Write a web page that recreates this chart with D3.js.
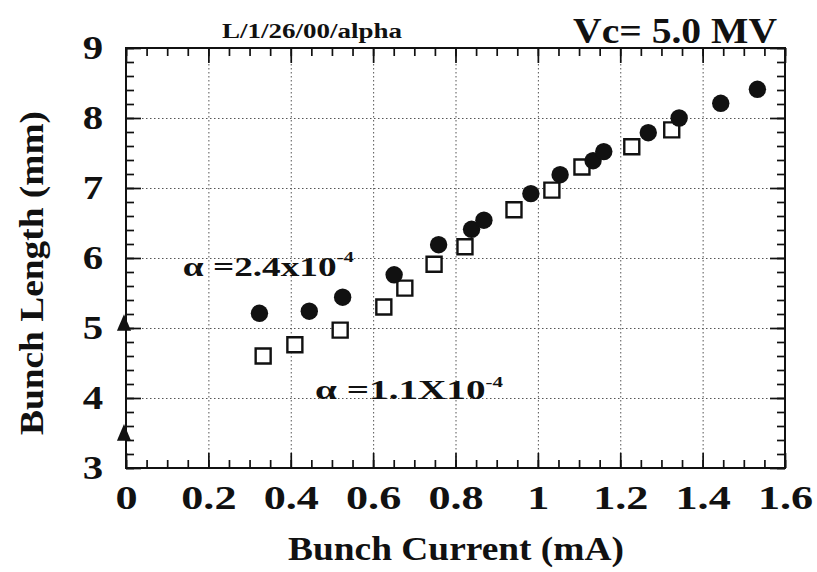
<!DOCTYPE html>
<html>
<head>
<meta charset="utf-8">
<script src="https://cdn.jsdelivr.net/npm/d3@7"></script>
<style>
body { margin: 0; background: #fff; }
text { font-family: "Liberation Serif", "Times New Roman", serif; font-weight: bold; fill: #111; }
.grid line { stroke: #555; stroke-width: 1; stroke-dasharray: 1.5,2.5; }
.grid path { display: none; }
.ticks line { stroke: #111; stroke-width: 1.7; }
.ticks path { display: none; }
</style>
</head>
<body>
<div id="chart-area"></div>
<script>
/*
    Bunch length vs bunch current, Vc = 5.0 MV
 */

// alpha = 2.4e-4 (filled circles)
var currentHigh = [0.324, 0.445, 0.526, 0.651, 0.759, 0.839, 0.869, 0.983, 1.054, 1.134, 1.160, 1.268, 1.343, 1.444, 1.533];
var lengthHigh  = [5.21, 5.24, 5.44, 5.76, 6.19, 6.41, 6.54, 6.92, 7.19, 7.39, 7.52, 7.79, 8.00, 8.21, 8.41];

// alpha = 1.1e-4 (open squares)
var currentLow = [0.333, 0.410, 0.520, 0.626, 0.677, 0.748, 0.823, 0.942, 1.034, 1.107, 1.228, 1.325];
var lengthLow  = [4.60, 4.76, 4.97, 5.30, 5.57, 5.91, 6.16, 6.69, 6.97, 7.30, 7.59, 7.83];

// zero current points (triangles)
var currentZero = [0, 0];
var lengthZero  = [5.04, 3.47];

// ticks
var xTicks = [0, 0.2, 0.4, 0.6, 0.8, 1.0, 1.2, 1.4, 1.6];
var xTickLabels = ["0", "0.2", "0.4", "0.6", "0.8", "1", "1.2", "1.4", "1.6"];
var yTicks = [3, 4, 5, 6, 7, 8, 9];
var yTickLabels = ["3", "4", "5", "6", "7", "8", "9"];

var margin = { left:126, right:32, top:48, bottom:104 },
    width = 817 - margin.left - margin.right,
    height = 572 - margin.top - margin.bottom;

var svg = d3.select("#chart-area")
    .append("svg")
    .attr("width", width + margin.left + margin.right)
    .attr("height", height + margin.top + margin.bottom);
var g = svg.append("g")
    .attr("transform", "translate(" + margin.left + ", " + margin.top + ")");

// Scales
var x = d3.scaleLinear().domain([0, 1.6]).range([0, width]);
var y = d3.scaleLinear().domain([3, 9]).range([height, 0]);

// Dotted grid
g.append("g")
    .attr("class", "grid")
    .call(d3.axisBottom(x).tickValues(xTicks.slice(1, -1)).tickSize(height).tickFormat(""));
g.append("g")
    .attr("class", "grid")
    .call(d3.axisLeft(y).tickValues(yTicks.slice(1, -1)).tickSize(-width).tickFormat(""));

// Minor ticks, inward on all four sides
var xMinor = d3.range(0, 1.6001, 0.05);
var yMinor = d3.range(3, 9.0001, 0.2);
g.append("g").attr("class", "ticks").attr("transform", "translate(0," + height + ")")
    .call(d3.axisBottom(x).tickValues(xMinor).tickSize(-8).tickFormat(""));
g.append("g").attr("class", "ticks")
    .call(d3.axisTop(x).tickValues(xMinor).tickSize(-8).tickFormat(""));
g.append("g").attr("class", "ticks")
    .call(d3.axisLeft(y).tickValues(yMinor).tickSize(-8).tickFormat(""));
g.append("g").attr("class", "ticks").attr("transform", "translate(" + width + ",0)")
    .call(d3.axisRight(y).tickValues(yMinor).tickSize(-8).tickFormat(""));

// Major ticks
g.append("g").attr("class", "ticks")
    .call(d3.axisTop(x).tickValues(xTicks).tickSize(-15).tickFormat(""));
g.append("g").attr("class", "ticks").attr("transform", "translate(" + width + ",0)")
    .call(d3.axisRight(y).tickValues(yTicks).tickSize(-15).tickFormat(""));

var xAxis = g.append("g")
    .attr("class", "ticks x axis")
    .attr("transform", "translate(0," + height + ")")
    .call(d3.axisBottom(x).tickValues(xTicks).tickSize(-15).tickPadding(17)
        .tickFormat(function(d, i) { return xTickLabels[i]; }));
var yAxis = g.append("g")
    .attr("class", "ticks y axis")
    .call(d3.axisLeft(y).tickValues(yTicks).tickSize(-15).tickPadding(19)
        .tickFormat(function(d, i) { return yTickLabels[i]; }));

xAxis.selectAll("text")
    .attr("font-size", "34px")
    .attr("font-family", null)
    .attr("transform", "scale(1.3,1)");
yAxis.selectAll("text")
    .attr("font-size", "34px")
    .attr("font-family", null)
    .attr("dy", "0.30em")
    .attr("transform", "scale(1.2,1)");

// Frame
g.append("rect")
    .attr("width", width)
    .attr("height", height)
    .attr("fill", "none")
    .attr("stroke", "#111")
    .attr("stroke-width", 2);

// Squares (alpha = 1.1e-4)
g.selectAll(".sq")
    .data(currentLow)
    .enter().append("path")
    .attr("class", "sq")
    .attr("d", d3.symbol().type(d3.symbolSquare).size(225))
    .attr("transform", function(d, i) { return "translate(" + x(d) + "," + y(lengthLow[i]) + ")"; })
    .attr("fill", "#fff")
    .attr("stroke", "#111")
    .attr("stroke-width", 2.4);

// Circles (alpha = 2.4e-4)
g.selectAll(".dot")
    .data(currentHigh)
    .enter().append("circle")
    .attr("class", "dot")
    .attr("cx", function(d) { return x(d); })
    .attr("cy", function(d, i) { return y(lengthHigh[i]); })
    .attr("r", 8.7)
    .attr("fill", "#111");

// Triangles at zero current
g.selectAll(".tri")
    .data(currentZero)
    .enter().append("path")
    .attr("class", "tri")
    .attr("d", d3.symbol().type(d3.symbolTriangle).size(120))
    .attr("transform", function(d, i) { return "translate(" + (x(d) - 2) + "," + y(lengthZero[i]) + ") scale(0.85,1.15)"; })
    .attr("fill", "#111");

// Annotations
var a1 = g.append("text")
    .attr("transform", "translate(" + x(0.138) + "," + y(5.74) + ") scale(1.38,1)")
    .attr("font-size", "27px");
a1.append("tspan").text("\u03b1 =2.4x10");
a1.append("tspan").attr("dy", -14).attr("font-size", "15px").text("-4");

var a2 = g.append("text")
    .attr("transform", "translate(" + x(0.459) + "," + y(3.98) + ") scale(1.4,1)")
    .attr("font-size", "28px");
a2.append("tspan").text("\u03b1 =1.1X10");
a2.append("tspan").attr("dy", -12).attr("font-size", "15px").text("-4");

// Header texts
svg.append("text")
    .attr("transform", "translate(222,38) scale(1.35,1)")
    .attr("font-size", "20px")
    .text("L/1/26/00/alpha");
svg.append("text")
    .attr("transform", "translate(777,43) scale(1.1,1)")
    .attr("text-anchor", "end")
    .attr("font-size", "36px")
    .text("Vc= 5.0 MV");

// Axis labels
svg.append("text")
    .attr("transform", "translate(456,560) scale(1.1,1)")
    .attr("text-anchor", "middle")
    .attr("font-size", "34px")
    .text("Bunch Current (mA)");
svg.append("text")
    .attr("transform", "translate(43,273) rotate(-90) scale(1.1,1)")
    .attr("text-anchor", "middle")
    .attr("font-size", "34px")
    .text("Bunch Length (mm)");
</script>
</body>
</html>
